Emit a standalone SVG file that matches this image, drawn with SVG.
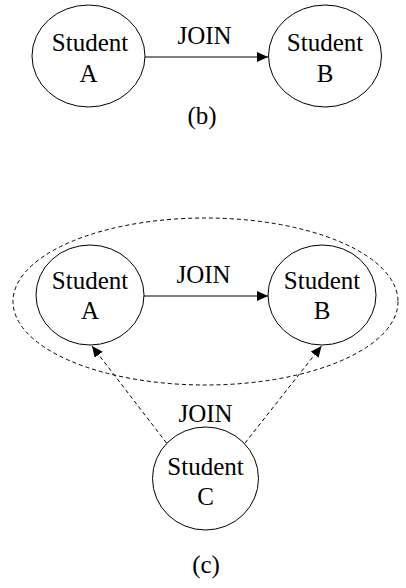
<svg xmlns="http://www.w3.org/2000/svg" width="406" height="588" viewBox="0 0 406 588">
<style>
.n{fill:#fff;stroke:#000;stroke-width:1}
.t{font-family:"Liberation Serif","Times New Roman",serif;font-size:25px;fill:#000;text-anchor:middle}
.e{stroke:#000;stroke-width:1;fill:none}
.d{stroke-dasharray:4,3}
</style>
<defs>
<marker id="ah" markerUnits="userSpaceOnUse" markerWidth="12" markerHeight="10" refX="11" refY="5" orient="auto">
<path d="M0,0 L11,5 L0,10 Z" fill="#000"/>
</marker>
</defs>
<g id="group-c">
<ellipse cx="205.5" cy="301.5" rx="192.5" ry="83.5" class="e d"/>
</g>
<g id="connectors">
<line x1="145" y1="57" x2="268" y2="57" class="e" marker-end="url(#ah)"/>
<line x1="144" y1="296" x2="268" y2="296" class="e" marker-end="url(#ah)"/>
<line x1="166.5" y1="443" x2="92" y2="346" class="e d" marker-end="url(#ah)"/>
<line x1="245" y1="443" x2="321.5" y2="346" class="e d" marker-end="url(#ah)"/>
<text x="204.5" y="44" class="t">JOIN</text>
<text x="203.5" y="283" class="t">JOIN</text>
<text x="205.5" y="422" class="t">JOIN</text>
</g>
<g id="b-studentA">
<ellipse cx="88.5" cy="56" rx="56.5" ry="51" class="n"/>
<text x="90" y="51" class="t">Student</text>
<text x="88.5" y="82" class="t">A</text>
</g>
<g id="b-studentB">
<ellipse cx="325" cy="56" rx="56.5" ry="51" class="n"/>
<text x="325" y="51" class="t">Student</text>
<text x="325" y="82" class="t">B</text>
</g>
<text x="202" y="124" class="t">(b)</text>
<g id="c-studentA">
<ellipse cx="90" cy="295" rx="54" ry="50" class="n"/>
<text x="90" y="289" class="t">Student</text>
<text x="90" y="319" class="t">A</text>
</g>
<g id="c-studentB">
<ellipse cx="322" cy="295" rx="54" ry="50" class="n"/>
<text x="322" y="289" class="t">Student</text>
<text x="322" y="319" class="t">B</text>
</g>
<g id="c-studentC">
<ellipse cx="205.5" cy="478.5" rx="53" ry="51.5" class="n"/>
<text x="205.5" y="475" class="t">Student</text>
<text x="205.5" y="505" class="t">C</text>
</g>
<text x="206" y="573" class="t">(c)</text>
</svg>
